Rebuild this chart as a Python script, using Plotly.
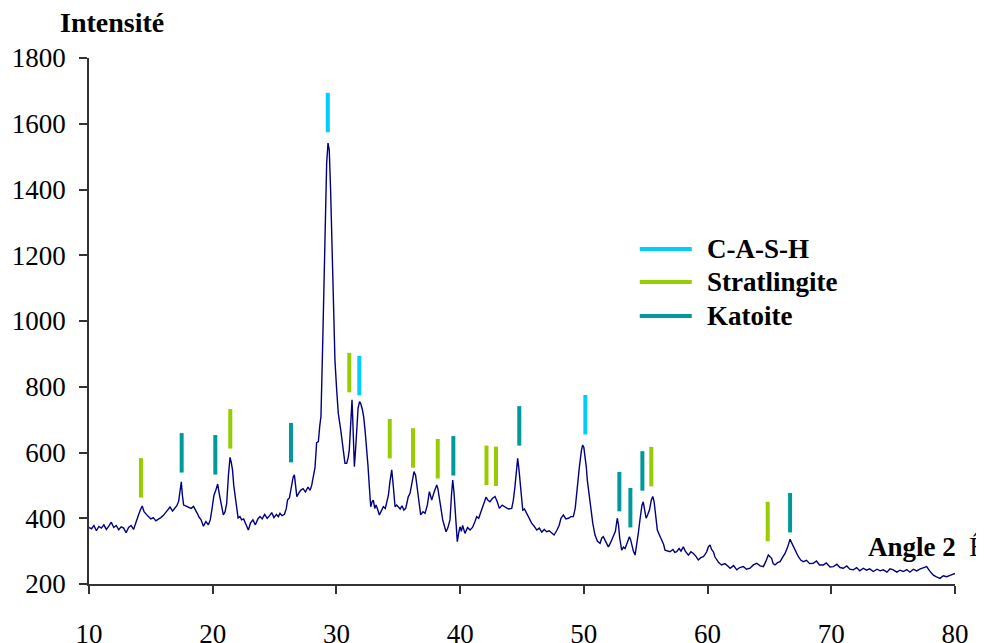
import plotly.graph_objects as go

# diffractogram (angle 2-theta, intensity)
angle = [10.0, 10.2, 10.4, 10.6, 10.8, 11.0, 11.2, 11.4, 11.6, 11.8, 12.0, 12.2, 12.4, 12.6, 12.8,
         13.0, 13.2, 13.4, 13.6, 13.8, 14.0, 14.15, 14.3, 14.45, 14.6, 14.8, 15.0, 15.2, 15.4, 15.6,
         15.8, 16.0, 16.2, 16.4, 16.55, 16.75, 16.95, 17.1, 17.25, 17.38, 17.46, 17.55, 17.65, 17.85,
         18.05, 18.25, 18.45, 18.6, 18.75, 18.9, 19.05, 19.25, 19.45, 19.65, 19.8, 19.95, 20.1, 20.25,
         20.4, 20.55, 20.7, 20.86, 21.0, 21.13, 21.27, 21.4, 21.5, 21.6, 21.7, 21.8, 21.95, 22.05,
         22.2, 22.34, 22.5, 22.7, 22.88, 23.05, 23.25, 23.45, 23.65, 23.82, 24.0, 24.2, 24.4, 24.6,
         24.77, 24.95, 25.15, 25.3, 25.44, 25.6, 25.8, 25.95, 26.05, 26.2, 26.35, 26.5, 26.6, 26.7,
         26.8, 26.95, 27.1, 27.3, 27.5, 27.7, 27.87, 28.0, 28.14, 28.27, 28.4, 28.54, 28.65, 28.75,
         28.89, 29.0, 29.13, 29.21, 29.32, 29.42, 29.53, 29.62, 29.75, 29.88, 30.02, 30.15, 30.35,
         30.56, 30.69, 30.83, 30.95, 31.04, 31.18, 31.26, 31.32, 31.38, 31.45, 31.55, 31.64, 31.75,
         31.87, 31.97, 32.1, 32.2, 32.32, 32.45, 32.55, 32.66, 32.77, 32.88, 32.98, 33.1, 33.2, 33.35,
         33.47, 33.6, 33.79, 33.95, 34.07, 34.2, 34.32, 34.47, 34.6, 34.74, 34.87, 35.0, 35.15, 35.3,
         35.45, 35.6, 35.81, 35.95, 36.1, 36.27, 36.4, 36.49, 36.65, 36.81, 37.0, 37.16, 37.35, 37.51,
         37.6, 37.7, 37.9, 38.11, 38.2, 38.32, 38.45, 38.59, 38.72, 38.86, 39.0, 39.18, 39.3, 39.4,
         39.5, 39.59, 39.68, 39.77, 39.88, 39.99, 40.1, 40.2, 40.39, 40.6, 40.8, 41.0, 41.2, 41.34,
         41.5, 41.74, 41.9, 42.09, 42.25, 42.41, 42.6, 42.82, 43.0, 43.17, 43.4, 43.63, 43.9, 44.17,
         44.3, 44.43, 44.55, 44.65, 44.75, 44.84, 44.95, 45.06, 45.2, 45.38, 45.55, 45.78, 46.0, 46.19,
         46.4, 46.6, 46.8, 46.99, 47.2, 47.4, 47.59, 47.8, 48.0, 48.15, 48.34, 48.55, 48.75, 48.95,
         49.15, 49.3, 49.45, 49.64, 49.8, 49.9, 50.0, 50.1, 50.2, 50.28, 50.42, 50.56, 50.72, 50.9,
         51.1, 51.31, 51.45, 51.57, 51.75, 51.98, 52.15, 52.38, 52.55, 52.7, 52.8, 52.9, 53.06, 53.2,
         53.33, 53.5, 53.68, 53.78, 53.87, 54.0, 54.14, 54.28, 54.4, 54.55, 54.7, 54.8, 54.92, 55.03,
         55.15, 55.3, 55.45, 55.57, 55.68, 55.76, 55.85, 55.94, 56.1, 56.29, 56.45, 56.56, 56.75,
         56.97, 57.2, 57.35, 57.5, 57.7, 57.85, 58.04, 58.2, 58.45, 58.65, 58.85, 59.05, 59.25, 59.45,
         59.66, 59.8, 59.93, 60.05, 60.2, 60.32, 60.47, 60.6, 60.74, 60.9, 61.14, 61.4, 61.68, 61.82,
         62.1, 62.36, 62.6, 62.89, 63.15, 63.43, 63.7, 63.97, 64.25, 64.51, 64.7, 64.91, 65.05, 65.18,
         65.3, 65.45, 65.65, 65.86, 66.05, 66.26, 66.45, 66.67, 66.8, 66.94, 67.1, 67.34, 67.55, 67.74,
         68.0, 68.25, 68.55, 68.8, 69.05, 69.36, 69.6, 69.9, 70.17, 70.45, 70.7, 70.97, 71.25, 71.5,
         71.78, 72.05, 72.3, 72.59, 72.85, 73.1, 73.4, 73.7, 73.95, 74.2, 74.5, 74.75, 75.01, 75.3,
         75.55, 75.82, 76.1, 76.35, 76.63, 76.9, 77.2, 77.45, 77.71, 77.95, 78.25, 78.5, 78.79, 79.05,
         79.33, 79.6, 79.8, 80.0]
intensite = [372, 368, 378, 362, 375, 370, 380, 366, 376, 388, 372, 378, 365, 374, 370,
             356, 372, 378, 366, 385, 410, 425, 437, 420, 412, 405, 398, 402, 392, 396,
             402, 408, 418, 426, 434, 422, 431, 438, 452, 490, 511, 470, 440, 437,
             433, 430, 436, 427, 415, 403, 396, 376, 390, 380, 395, 430, 470, 485,
             504, 470, 440, 410, 420, 445, 530, 585, 570, 547, 500, 466, 420, 401,
             405, 395, 398, 378, 364, 385, 395, 380, 398, 405, 398, 412, 400, 408,
             417, 402, 412, 405, 415, 408, 412, 430, 456, 462, 490, 525, 532, 500,
             466, 476, 485, 490, 480, 495, 485, 500, 526, 555, 630, 633, 680, 709,
             932, 1155, 1328, 1480, 1541, 1520, 1398, 1256, 1033, 881, 790, 719, 668,
             608, 567, 567, 585, 608, 699, 760, 700, 577, 557, 610, 668, 735,
             755, 748, 730, 709, 665, 618, 560, 496, 435, 450, 455, 430, 440, 425,
             410, 420, 435, 430, 450, 470, 510, 547, 496, 435, 440, 435, 428, 438,
             425, 430, 466, 476, 505, 542, 530, 506, 450, 410, 420, 415, 440, 481,
             470, 455, 480, 501, 490, 466, 430, 395, 375, 359, 370, 395, 470, 516,
             480, 425, 370, 329, 355, 374, 360, 378, 354, 372, 364, 372, 390, 405,
             400, 425, 440, 464, 455, 450, 460, 466, 450, 430, 440, 435, 428, 430,
             455, 496, 560, 582, 550, 506, 465, 425, 428, 415, 405, 385, 375, 364,
             370, 358, 366, 359, 362, 355, 349, 362, 378, 400, 410, 398, 400, 405,
             405, 430, 490, 557, 605, 623, 615, 590, 555, 516, 470, 435, 385, 349,
             330, 324, 340, 344, 330, 313, 325, 344, 360, 400, 380, 339, 303, 312,
             308, 325, 344, 335, 319, 300, 288, 320, 354, 400, 440, 450, 425, 400,
             410, 425, 455, 466, 450, 425, 395, 364, 350, 334, 320, 303, 300,
             298, 305, 296, 298, 308, 300, 313, 300, 288, 298, 293, 285, 273, 280,
             283, 290, 298, 312, 319, 305, 298, 282, 273, 265, 258, 262, 253, 248,
             256, 243, 250, 253, 245, 248, 258, 263, 255, 253, 268, 288, 283, 278,
             262, 258, 265, 268, 280, 293, 310, 336, 325, 313, 300, 283, 272, 268,
             272, 262, 263, 270, 258, 258, 264, 252, 253, 260, 250, 248, 255, 245,
             243, 250, 240, 248, 242, 246, 238, 245, 240, 243, 236, 246, 243, 236,
             242, 238, 244, 236, 245, 240, 246, 250, 253, 240, 227, 222, 217, 225,
             222, 226, 230, 232]

# phase markers: angle and top of each tick
cash_pos = [29.3, 31.85, 50.12]
cash_top = [1694, 894, 775]
strat_pos = [14.2, 21.42, 31.04, 34.31, 36.19, 38.19, 42.13, 42.9, 55.45, 64.86]
strat_top = [583, 732, 903, 702, 674, 641, 621, 618, 617, 450]
kat_pos = [17.49, 20.21, 26.33, 39.45, 44.78, 52.87, 53.76, 54.73, 66.67]
kat_top = [659, 653, 690, 650, 741, 541, 492, 604, 477]

phases = ["C-A-S-H", "Stratlingite", "Katoite"]
colors = ["#00CCFF", "#99CC00", "#009999"]
BAR = 120

fig = go.Figure()

for pos, top, col in [(cash_pos, cash_top, colors[0]),
                      (strat_pos, strat_top, colors[1]),
                      (kat_pos, kat_top, colors[2])]:
    xs, ys = [], []
    for p, t in zip(pos, top):
        xs += [p, p, None]
        ys += [t, t - BAR, None]
    fig.add_trace(go.Scatter(x=xs, y=ys, mode="lines",
                             line=dict(color=col, width=4), showlegend=False))

fig.add_trace(go.Scatter(x=angle, y=intensite, mode="lines",
                         line=dict(color="#000080", width=1.4), showlegend=False))

font = "Liberation Serif, Times New Roman, serif"

# hand-made legend
leg_y = [0.637, 0.574, 0.5095]
for name, col, yy in zip(phases, colors, leg_y):
    fig.add_shape(type="line", xref="paper", yref="paper",
                  x0=0.636, x1=0.696, y0=yy, y1=yy, line=dict(color=col, width=4))
    fig.add_annotation(text="<b>" + name + "</b>", xref="paper", yref="paper",
                       x=0.711, y=yy, xanchor="left", yanchor="middle", showarrow=False,
                       font=dict(family=font, size=27, color="black"))

fig.add_annotation(text="<b>Intensité</b>", xref="paper", yref="paper",
                   x=0.027, y=1.068, xanchor="center", yanchor="middle", showarrow=False,
                   font=dict(family=font, size=28, color="black"))
fig.add_annotation(text="<b>Angle 2</b>  Ê", xref="paper", yref="paper",
                   x=0.897, y=0.07, xanchor="left", yanchor="middle", showarrow=False,
                   font=dict(family=font, size=27, color="black"))

# the page body adds an 8px offset, margins compensate for it
fig.update_layout(
    width=984, height=643,
    margin=dict(l=81, r=37, t=50, b=67),
    paper_bgcolor="white", plot_bgcolor="white",
    font=dict(family=font, size=27, color="black"),
    xaxis=dict(range=[10, 80], dtick=10, showgrid=False, zeroline=False, automargin=False,
               showline=True, linecolor="#333333", linewidth=1.5,
               ticks="outside", ticklen=8, tickwidth=1.5, tickcolor="#333333",
               ticklabelstandoff=17),
    yaxis=dict(range=[200, 1800], dtick=200, showgrid=False, zeroline=False, automargin=False,
               showline=True, linecolor="#333333", linewidth=1.5,
               ticks="outside", ticklen=8, tickwidth=1.5, tickcolor="#333333",
               ticklabelstandoff=8),
)

fig.write_html("out.html")
